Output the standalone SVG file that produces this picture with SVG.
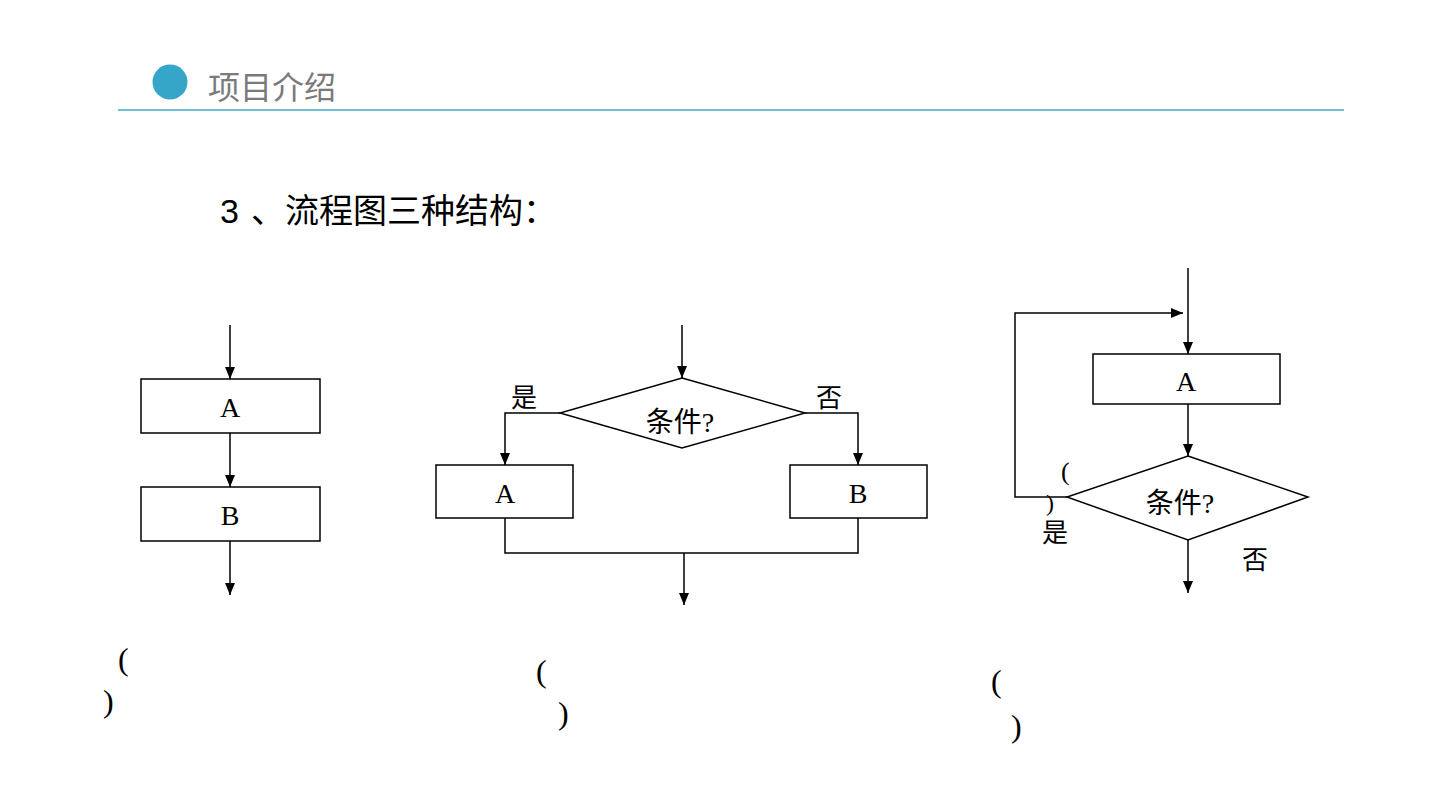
<svg xmlns="http://www.w3.org/2000/svg" width="1440" height="810" viewBox="0 0 1440 810">
<defs>
<marker id="arr" viewBox="0 0 12 10" markerWidth="12" markerHeight="10" refX="12" refY="5" orient="auto" markerUnits="userSpaceOnUse">
<path d="M0,0 L12,5 L0,10 z" fill="#000"/>
</marker>
</defs>
<style>
.shape{fill:#fff;stroke:#000;stroke-width:1.5}
.line{fill:none;stroke:#000;stroke-width:1.5}
.arrow{fill:none;stroke:#000;stroke-width:1.5;marker-end:url(#arr)}
.lbl{font-family:"Liberation Serif","Noto Sans CJK SC",serif;font-size:28px;fill:#000;text-anchor:middle}
.cjk{font-family:"Liberation Serif","Noto Sans CJK SC",serif;font-size:26px;fill:#000}
.cond{font-family:"Liberation Serif","Noto Sans CJK SC",serif;font-size:28px;fill:#000;text-anchor:middle}
.par{font-family:"Liberation Serif",serif;font-size:32px;fill:#000}
</style>
<rect width="1440" height="810" fill="#fff"/>
<g id="header">
<circle cx="170" cy="82" r="17.5" fill="#35a6c8"/>
<text x="208" y="99" font-family="'Noto Sans CJK SC',sans-serif" font-size="32" fill="#7a7a7a">项目介绍</text>
<line x1="118" y1="110" x2="1344" y2="110" stroke="#45aacb" stroke-width="1.5"/>
</g>
<g id="title">
<text y="223" font-family="'Liberation Sans','Noto Sans CJK SC',sans-serif" font-size="34" fill="#000"><tspan x="220">3</tspan><tspan x="251">、流程图三种结构：</tspan></text>
</g>
<g id="connectors">
<line class="arrow" x1="230" y1="325" x2="230" y2="379"/>
<line class="arrow" x1="230" y1="433" x2="230" y2="487"/>
<line class="arrow" x1="230" y1="541" x2="230" y2="595"/>
<line class="arrow" x1="682" y1="325" x2="682" y2="378"/>
<polyline class="arrow" points="560,413 505,413 505,465"/>
<polyline class="arrow" points="805,413 858,413 858,465"/>
<polyline class="line" points="505,518 505,553 858,553 858,518"/>
<line class="arrow" x1="684" y1="553" x2="684" y2="605"/>
<line class="arrow" x1="1188" y1="268" x2="1188" y2="354"/>
<line class="arrow" x1="1188" y1="404" x2="1188" y2="456"/>
<line class="arrow" x1="1188" y1="540" x2="1188" y2="593"/>
<polyline class="arrow" points="1067,497 1015,497 1015,313 1183,313"/>
</g>
<g id="seq-A"><rect class="shape" x="141" y="379" width="179" height="54"/><text class="lbl" x="230" y="417">A</text></g>
<g id="seq-B"><rect class="shape" x="141" y="487" width="179" height="54"/><text class="lbl" x="230" y="525">B</text></g>
<g id="sel-cond"><polygon class="shape" points="682,378 805,413 682,448 560,413"/><text class="cond" x="680" y="432">条件?</text></g>
<g id="sel-A"><rect class="shape" x="436" y="465" width="137" height="53"/><text class="lbl" x="505" y="503">A</text></g>
<g id="sel-B"><rect class="shape" x="790" y="465" width="137" height="53"/><text class="lbl" x="858" y="503">B</text></g>
<g id="sel-labels"><text class="cjk" x="511" y="407">是</text><text class="cjk" x="816" y="407">否</text></g>
<g id="loop-A"><rect class="shape" x="1093" y="354" width="187" height="50"/><text class="lbl" x="1186" y="391">A</text></g>
<g id="loop-cond"><polygon class="shape" points="1188,456 1308,497 1188,540 1067,497"/><text class="cond" x="1180" y="513">条件?</text></g>
<g id="loop-labels">
<text class="cjk" x="1042" y="542">是</text><text class="cjk" x="1242" y="569">否</text>
<text class="par" style="font-size:26px" x="1061" y="480">(</text>
<text class="par" style="font-size:24px" x="1046" y="511">)</text>
</g>
<g id="parens">
<text class="par" x="118" y="670">(</text><text class="par" x="103" y="712">)</text>
<text class="par" x="536" y="682">(</text><text class="par" x="558" y="724">)</text>
<text class="par" x="991" y="692">(</text><text class="par" x="1011" y="737">)</text>
</g>
</svg>
